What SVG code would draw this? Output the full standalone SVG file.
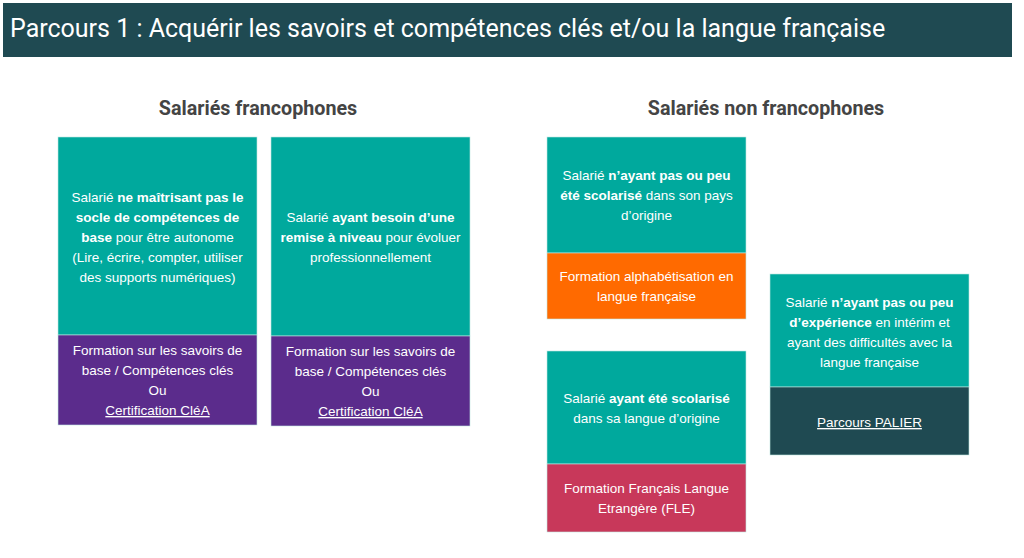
<svg xmlns="http://www.w3.org/2000/svg" width="1024" height="558" viewBox="0 0 1024 558">
<style>
.t{font-family:"Liberation Sans",Arial,sans-serif;font-size:13.5px;fill:#ffffff;text-anchor:middle}
.b{font-weight:bold}
.u{text-decoration:underline}
.h{font-family:Roboto,"Liberation Sans",sans-serif;font-size:19.7px;font-weight:bold;fill:#444444;text-anchor:middle}
.teal{fill:#00a99d}
.box{stroke:#bfe6e2;stroke-width:0.6}
</style>
<rect width="1024" height="558" fill="#ffffff"/>
<g id="header">
<rect x="3" y="3" width="1009" height="54" fill="#1f4a52"/>
<text x="10" y="37" font-family="Roboto,'Liberation Sans',sans-serif" font-size="25" fill="#ffffff">Parcours 1 : Acquérir les savoirs et compétences clés et/ou la langue française</text>
</g>
<text class="h" x="258" y="115">Salariés francophones</text>
<text class="h" x="766" y="115">Salariés non francophones</text>
<g id="node1">
<rect class="teal box" x="58" y="137" width="199" height="198"/>
<rect class="box" x="58" y="335" width="199" height="90" fill="#5b2c8c"/>
<text class="t" x="157.5" y="202">Salarié <tspan class="b">ne maîtrisant pas le</tspan></text>
<text class="t b" x="157.5" y="222">socle de compétences de</text>
<text class="t" x="157.5" y="242"><tspan class="b">base</tspan> pour être autonome</text>
<text class="t" x="157.5" y="262">(Lire, écrire, compter, utiliser</text>
<text class="t" x="157.5" y="282">des supports numériques)</text>
<text class="t" x="157.5" y="355">Formation sur les savoirs de</text>
<text class="t" x="157.5" y="375">base / Compétences clés</text>
<text class="t" x="157.5" y="395">Ou</text>
<text class="t u" x="157.5" y="415">Certification CléA</text>
</g>
<g id="node2">
<rect class="teal box" x="271" y="137" width="199" height="199"/>
<rect class="box" x="271" y="336" width="199" height="90" fill="#5b2c8c"/>
<text class="t" x="370.5" y="222">Salarié <tspan class="b">ayant besoin d’une</tspan></text>
<text class="t" x="370.5" y="242"><tspan class="b">remise à niveau</tspan> pour évoluer</text>
<text class="t" x="370.5" y="262">professionnellement</text>
<text class="t" x="370.5" y="356">Formation sur les savoirs de</text>
<text class="t" x="370.5" y="376">base / Compétences clés</text>
<text class="t" x="370.5" y="396">Ou</text>
<text class="t u" x="370.5" y="416">Certification CléA</text>
</g>
<g id="node3">
<rect class="teal box" x="547" y="137" width="199" height="116"/>
<rect class="box" x="547" y="253" width="199" height="66" fill="#ff6a00"/>
<text class="t" x="646.5" y="180">Salarié <tspan class="b">n’ayant pas ou peu</tspan></text>
<text class="t" x="646.5" y="200"><tspan class="b">été scolarisé</tspan> dans son pays</text>
<text class="t" x="646.5" y="220">d’origine</text>
<text class="t" x="646.5" y="281">Formation alphabétisation en</text>
<text class="t" x="646.5" y="301">langue française</text>
</g>
<g id="node4">
<rect class="teal box" x="547" y="351" width="199" height="113"/>
<rect class="box" x="547" y="464" width="199" height="68" fill="#c8385a"/>
<text class="t" x="646.5" y="403">Salarié <tspan class="b">ayant été scolarisé</tspan></text>
<text class="t" x="646.5" y="423">dans sa langue d’origine</text>
<text class="t" x="646.5" y="493">Formation Français Langue</text>
<text class="t" x="646.5" y="513">Etrangère (FLE)</text>
</g>
<g id="node5">
<rect class="teal box" x="770" y="274" width="199" height="113"/>
<rect class="box" x="770" y="387" width="199" height="68" fill="#1f4a52"/>
<text class="t" x="869.5" y="307">Salarié <tspan class="b">n’ayant pas ou peu</tspan></text>
<text class="t" x="869.5" y="327"><tspan class="b">d’expérience</tspan> en intérim et</text>
<text class="t" x="869.5" y="347">ayant des difficultés avec la</text>
<text class="t" x="869.5" y="367">langue française</text>
<text class="t u" x="869.5" y="427">Parcours PALIER</text>
</g>
<g id="connectors"/>
</svg>
